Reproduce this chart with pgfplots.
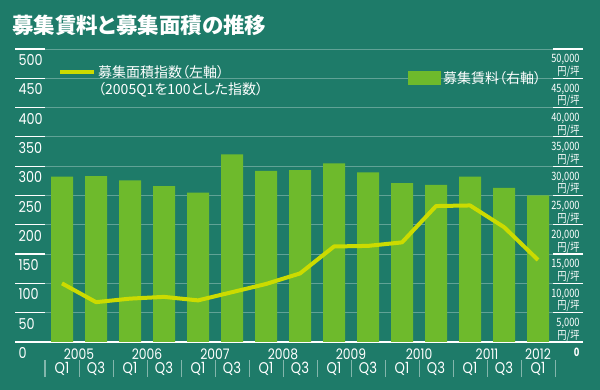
\documentclass[border=0pt]{standalone}
\usepackage{pgfplots}
\pgfplotsset{compat=1.18}
\usepackage{fontspec}
\setmainfont{Noto Sans CJK JP}[RawFeature=+palt]
\newfontfamily\numfont[FakeStretch=0.85]{Poppins}
\newfontfamily\condfont[FakeStretch=0.8]{Noto Sans CJK JP}
\definecolor{bg}{HTML}{1E7B69}
\definecolor{bargreen}{HTML}{6EBA2C}
\definecolor{linegreen}{HTML}{CCDB00}
\pgfplotstableread{
x rent area
0 28200 100
1 28300 68
2 27600 74
3 26600 77
4 25500 71
5 32000 85
6 29200 99
7 29350 117
8 30500 163
9 28950 164
10 27100 170
11 26800 232
12 28200 233
13 26300 196
14 25000 140
}\datatable
\begin{document}
\begin{tikzpicture}[x=1pt,y=1pt]
\fill[bg] (0,0) rectangle (600,390);
\node[anchor=west, text=white, font=\bfseries\fontsize{21.5}{21.5}\selectfont, inner sep=0pt] at (12,365) {募集賃料と募集面積の推移};
% right axis: rent bars
\begin{axis}[
  at={(45pt,48pt)}, anchor=south west,
  scale only axis, width=508pt, height=293pt,
  xmin=-0.5, xmax=14.44, ymin=0, ymax=50000,
  axis x line*=bottom, axis y line*=right,
  x axis line style={white, line width=1.5pt, -},
  y axis line style={draw=none},
  ymajorgrids, grid style={white, opacity=0.3, line width=0.8pt},
  scaled y ticks=false,
  ytick={0,5000,...,50000},
  yticklabels={{\bfseries 0},{5,000\\円/坪},{10,000\\円/坪},{15,000\\円/坪},{20,000\\円/坪},{25,000\\円/坪},{30,000\\円/坪},{35,000\\円/坪},{40,000\\円/坪},{45,000\\円/坪},{50,000\\円/坪}},
  tick align=outside, major tick length=30pt,
  ytick style={white, line width=1.2pt},
  xtick style={draw=none},
  yticklabel style={anchor=north east, align=right, font=\condfont\fontsize{11.5}{10.5}\selectfont, text=white, xshift=0pt, yshift=-2pt},
  xtick={0.5,2.5,4.5,6.5,8.5,10.5,12.5,14},
  xticklabels={2005,2006,2007,2008,2009,2010,2011,2012},
  xticklabel style={anchor=center, font=\numfont\fontsize{14.5}{14.5}\selectfont, text=white, yshift=18pt},
  clip=false,
  legend style={at={(0.7146,0.932)}, anchor=north west, draw=none, fill=none, text=white, font=\fontsize{14}{14}\selectfont, inner sep=0pt, /tikz/every even column/.append style={column sep=4pt}},
]
\addplot[ybar, bar width=22pt, fill=bargreen, draw=none,
  legend image code/.code={\fill[bargreen] (0pt,-7pt) rectangle (33pt,7pt);}] table[x=x, y=rent] {\datatable};
\addlegendentry{募集賃料（右軸）}
\pgfplotsinvokeforeach{-0.5,0.5,1.5,2.5,3.5,4.5,5.5,6.5,7.5,8.5,9.5,10.5,11.5,12.5,13.5,14.5}{
  \draw[white, opacity=0.45, line width=1pt] (axis cs:#1,-3070) -- (axis cs:#1,-5970);
}
\end{axis}
% left axis: area index line
\begin{axis}[
  at={(45pt,48pt)}, anchor=south west,
  scale only axis, width=508pt, height=293pt,
  xmin=-0.5, xmax=14.44, ymin=0, ymax=500,
  axis x line*=bottom, axis y line*=left,
  x axis line style={draw=none},
  y axis line style={draw=none},
  ytick={0,50,...,500},
  yticklabels={0,50,100,150,200,250,300,350,400,450,500},
  tick align=outside, major tick length=30pt,
  ytick style={white, line width=1.2pt},
  xtick style={draw=none},
  yticklabel style={anchor=north west, font=\numfont\fontsize{15}{15}\selectfont, text=white, xshift=0pt, yshift=-2pt},
  xtick={0,...,14},
  xticklabels={Q1,Q3,Q1,Q3,Q1,Q3,Q1,Q3,Q1,Q3,Q1,Q3,Q1,Q3,Q1},
  xticklabel style={anchor=center, font=\numfont\fontsize{15.5}{15.5}\selectfont, text=white, yshift=3pt},
  clip=false,
  legend cell align=left,
  legend style={at={(0.0256,0.952)}, anchor=north west, draw=none, fill=none, text=white, font=\fontsize{14}{14}\selectfont, inner sep=0pt, row sep=0pt, /tikz/every even column/.append style={column sep=5pt}},
]
\addplot[linegreen, line width=4pt, line join=round,
  legend image code/.code={\draw[linegreen, line width=4pt] (0pt,0pt) -- (34pt,0pt);}] table[x=x, y=area] {\datatable};
\addlegendentry{募集面積指数（左軸）}
\addlegendimage{empty legend}
\addlegendentry{（2005Q1を100とした指数）}
\end{axis}
\pgfresetboundingbox
\useasboundingbox (0,0) rectangle (600,390);
\end{tikzpicture}
\end{document}
